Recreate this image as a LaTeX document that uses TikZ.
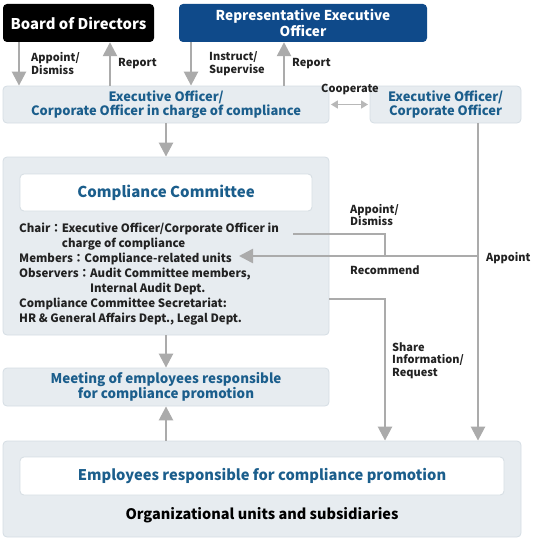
\documentclass[tikz,border=0pt]{standalone}
\usepackage{fontspec}
\setmainfont{Noto Sans CJK JP}
\usepackage{xcolor}
\usetikzlibrary{arrows.meta}

\definecolor{panelfill}{HTML}{E7ECF0}
\definecolor{panelline}{HTML}{D5DDE3}
\definecolor{headblue}{HTML}{1B5E8C}
\definecolor{repblue}{HTML}{0F4A8A}
\definecolor{arrowgray}{HTML}{ABABAB}
\definecolor{labelgray}{HTML}{222222}

\tikzset{
  panel/.style={draw=panelline, fill=panelfill, line width=0.8pt, rounded corners=4pt, inner sep=0pt},
  whitebox/.style={draw=panelline, fill=white, line width=0.8pt, rounded corners=4pt, inner sep=0pt},
  topbox/.style={rounded corners=4pt, inner sep=0pt, text=white, align=center},
  headtext/.style={text=headblue, align=center, font=\bfseries\fontsize{12.9}{13.5}\selectfont},
  arr/.style={draw=arrowgray, line width=2.5pt, -{Triangle[width=14pt,length=14pt]}},
  plainline/.style={draw=arrowgray, line width=2.5pt},
  lbl/.style={inner sep=0pt, align=left, text=labelgray, font=\bfseries\fontsize{11}{12.5}\selectfont},
}

\begin{document}
\begin{tikzpicture}[x=1pt,y=-1pt]
            \useasboundingbox (0,0) rectangle (540,543);

            % Top boxes
            \node[topbox, fill=black, minimum width=151pt, minimum height=38pt,
                  font=\bfseries\fontsize{14.8}{18}\selectfont] (bod) at (78.5,23) {Board of Directors};
            \node[topbox, fill=repblue, minimum width=248pt, minimum height=38pt,
                  font=\bfseries\fontsize{13.6}{14}\selectfont] (reo) at (303,23) {Representative Executive\\Officer};

            % Executive officers
            \node[panel, headtext, minimum width=326pt, minimum height=37pt] (eoc) at (166,104.5)
                {Executive Officer/\\Corporate Officer in charge of compliance};
            \node[panel, headtext, minimum width=151pt, minimum height=37pt] (eco) at (445.5,104.5)
                {Executive Officer/\\Corporate Officer};

            % Compliance committee
            \node[panel, minimum width=326pt, minimum height=178pt] (cc) at (166,246) {};
            \node[whitebox, minimum width=292pt, minimum height=37pt, text=headblue,
                  font=\bfseries\fontsize{15}{18}\selectfont] (ccin) at (166,192.5) {Compliance Committee};
            \foreach \i/\t in {0/{Chair：Executive Officer/Corporate Officer in},
                               1/{\phantom{Chair：}charge of compliance},
                               2/{Members：Compliance-related units},
                               3/{Observers：Audit Committee members,},
                               4/{\phantom{Observers：}Internal Audit Dept.},
                               5/{Compliance Committee Secretariat:},
                               6/{HR \& General Affairs Dept., Legal Dept.}} {
                \node[lbl, anchor=base west, font=\bfseries\fontsize{11.5}{15}\selectfont]
                    (ccl\i) at (19,232+15*\i) {\t};
            }

            % Meeting and organizational units
            \node[panel, headtext, minimum width=326pt, minimum height=38pt,
                  font=\bfseries\fontsize{13.4}{13.5}\selectfont] (meet) at (166,387)
                {Meeting of employees responsible\\for compliance promotion};
            \node[panel, minimum width=518pt, minimum height=96pt] (org) at (262,489) {};
            \node[whitebox, minimum width=484pt, minimum height=38pt, text=headblue,
                  font=\bfseries\fontsize{14.7}{18}\selectfont] (emp) at (262,476)
                {Employees responsible for compliance promotion};
            \node[inner sep=0pt, font=\bfseries\fontsize{14.5}{16}\selectfont] (orgt) at (262,515)
                {Organizational units and subsidiaries};

            % Arrows between the top boxes and the officer in charge
            \draw[arr] (bod.south -| 19,0) -- (eoc.north -| 19,0);
            \draw[arr] (eoc.north -| 110,0) -- (bod.south -| 110,0);
            \draw[arr] (reo.south -| 191,0) -- (eoc.north -| 191,0);
            \draw[arr] (eoc.north -| 284,0) -- (reo.south -| 284,0);
            \node[lbl, anchor=west] (l1) at (31,63.5) {Appoint/\\Dismiss};
            \node[lbl, anchor=west] (l2) at (118,64) {Report};
            \node[lbl, anchor=west] (l3) at (209,63.5) {Instruct/\\Supervise};
            \node[lbl, anchor=west] (l4) at (292,64) {Report};

            % Cooperate
            \draw[draw=arrowgray!85, line width=1.6pt, {Triangle[width=8pt,length=7pt]}-{Triangle[width=8pt,length=7pt]}]
                (eoc.east) ++(1.5,0) coordinate (coopa) (coopa) -- (eco.west -| 368,0);
            \node[lbl, anchor=center] (l5) at (350,89) {Cooperate};

            % Down the middle column
            \draw[arr] (eoc.south) -- (cc.north);
            \draw[arr] (cc.south) -- (meet.north);
            \draw[arr] (org.north -| meet.south) -- (meet.south);

            % Appoint from the right
            \coordinate (membtip) at (239,256);
            \coordinate (chairend) at (293,234);
            \draw[arr] (eco.south -| 478,0) -- (org.north -| 478,0);
            \draw[arr] (478,256) -- (membtip);
            \draw[plainline] (chairend) -| (385,256);
            \node[lbl, anchor=west] (l6) at (486,258) {Appoint};
            \node[lbl, anchor=west] (l7) at (350,215) {Appoint/\\Dismiss};
            \node[lbl, anchor=west] (l8) at (350,270) {Recommend};

            % Share information
            \draw[arr] (cc.east |- 0,299) -| (org.north -| 385,0);
            \node[lbl, anchor=west] (l9) at (392,360.5) {Share\\Information/\\Request};

        \end{tikzpicture}
\end{document}
